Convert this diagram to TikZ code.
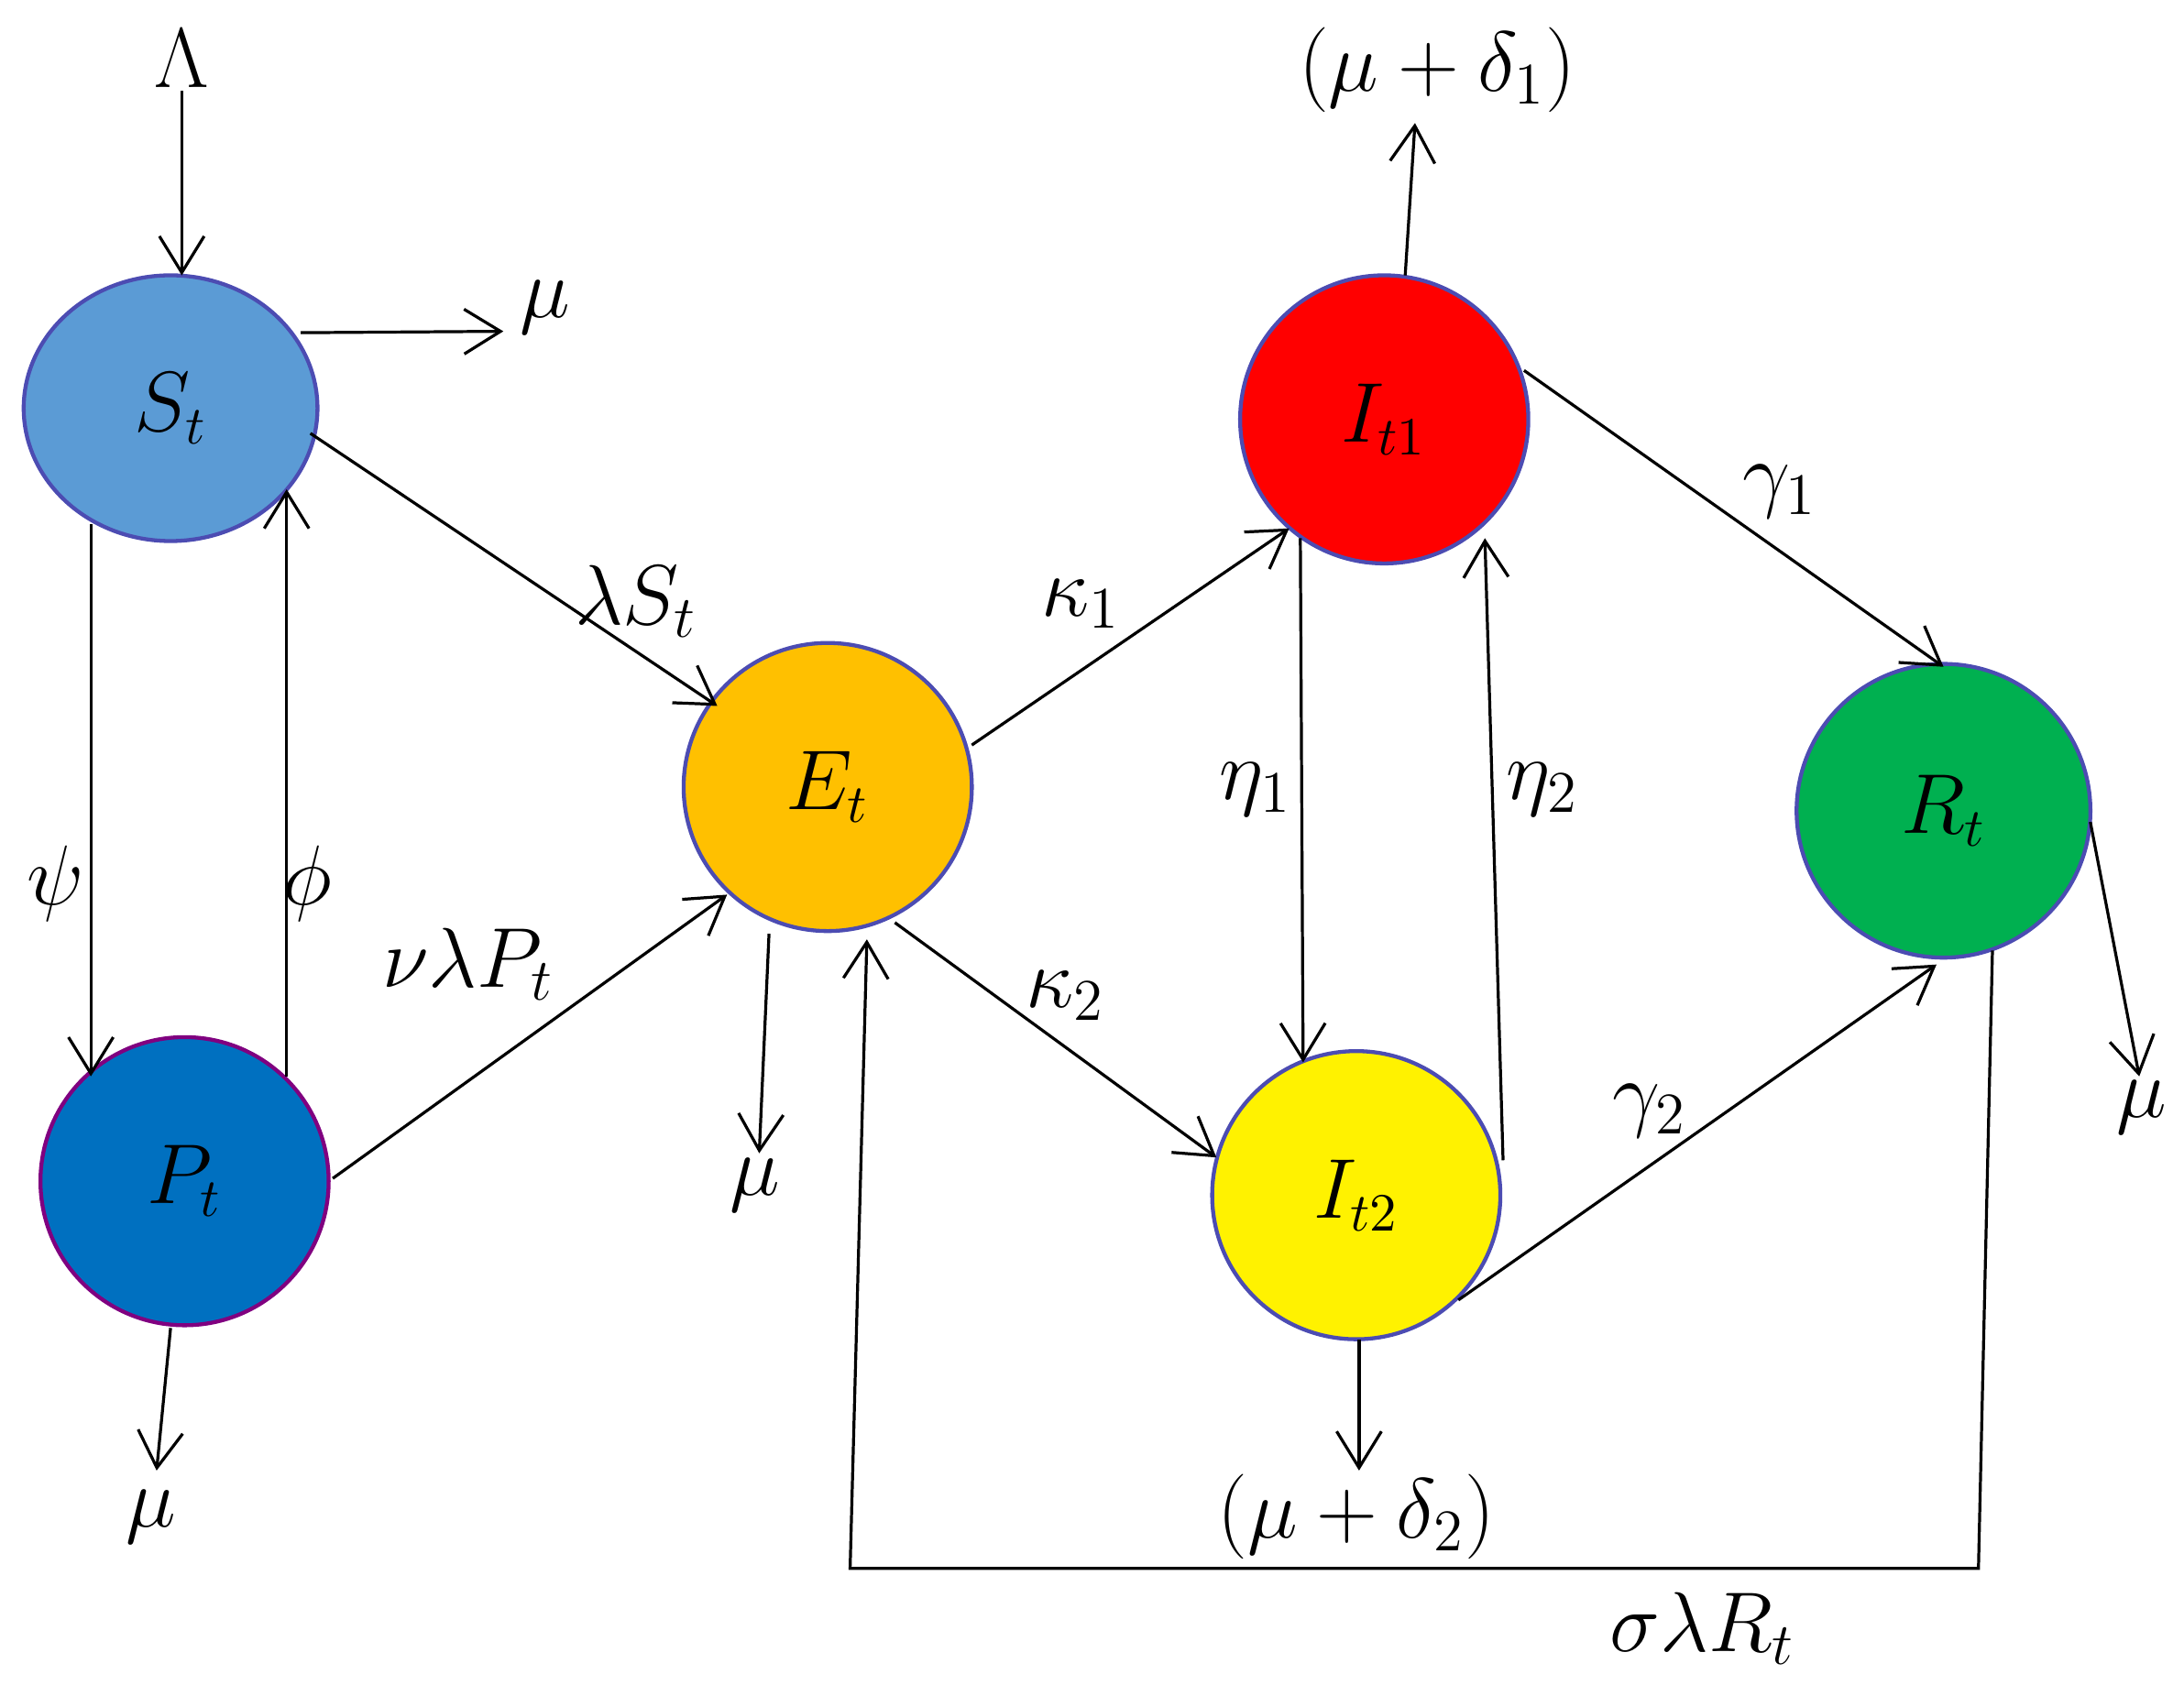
\documentclass[tikz,border=0pt]{standalone}
\usetikzlibrary{arrows.meta,shapes.geometric}
\begin{document}
\begin{tikzpicture}[x=0.01cm,y=-0.01cm,
  comp/.style={circle,draw=blue!40!gray,line width=0.8pt,minimum size=2.06cm,inner sep=0pt,font=\fontsize{16}{18}\selectfont},
  ar/.style={-{Straight Barb[length=2.6mm,width=3.2mm]},line width=0.6pt},
  lb/.style={font=\fontsize{17}{20}\selectfont}]
\useasboundingbox (0,0) rectangle (1562,1205);
\node[comp,ellipse,minimum width=2.1cm,minimum height=1.9cm,fill={rgb,255:red,91;green,155;blue,213}] (S) at (122,292) {$S_t$};
\node[comp,draw=violet,fill={rgb,255:red,0;green,112;blue,192}] (P) at (132,845) {$P_t$};
\node[comp,fill={rgb,255:red,255;green,192;blue,0}] (E) at (592,563) {$E_t$};
\node[comp,fill=red] (I1) at (990,300) {$I_{t1}$};
\node[comp,fill=yellow] (I2) at (970,855) {$I_{t2}$};
\node[comp,minimum size=2.1cm,fill={rgb,255:red,0;green,176;blue,80}] (R) at (1390,580) {$R_t$};
\node[lb] (L) at (130,42) {$\Lambda$};
\node[lb] (m1) at (390,220) {$\mu$};
\node[lb] (m2) at (108,1085) {$\mu$};
\node[lb] (m3) at (540,848) {$\mu$};
\node[lb] (m4) at (1532,792) {$\mu$};
\node[lb] (d1) at (1028,50) {$(\mu+\delta_1)$};
\node[lb] (d2) at (970,1085) {$(\mu+\delta_2)$};
\coordinate (a1) at (130,65); \coordinate (a2) at (130,197);
\draw[ar] (a1) -- (a2);
\coordinate (b1) at (215,238); \coordinate (b2) at (360,237);
\draw[ar] (b1) -- (b2);
\coordinate (c1) at (222,310); \coordinate (c2) at (513,505);
\draw[ar] (c1) -- (c2);
\node[lb] at (455,430) {$\lambda S_t$};
\coordinate (e1) at (65,375); \coordinate (e2) at (65,770);
\draw[ar] (e1) -- (e2);
\node[lb] at (40,632) {$\psi$};
\coordinate (f1) at (205,770); \coordinate (f2) at (205,350);
\draw[ar] (f1) -- (f2);
\node[lb] at (220,632) {$\phi$};
\coordinate (g1) at (238,843); \coordinate (g2) at (520,640);
\draw[ar] (g1) -- (g2);
\node[lb] at (335,690) {$\nu\lambda P_t$};
\coordinate (h1) at (122,950); \coordinate (h2) at (112,1052);
\draw[ar] (h1) -- (h2);
\coordinate (i1) at (550,668); \coordinate (i2) at (543,825);
\draw[ar] (i1) -- (i2);
\coordinate (j1) at (695,533); \coordinate (j2) at (922,378);
\draw[ar] (j1) -- (j2);
\node[lb] at (773,432) {$\kappa_1$};
\coordinate (k1) at (640,660); \coordinate (k2) at (870,828);
\draw[ar] (k1) -- (k2);
\node[lb] at (762,712) {$\kappa_2$};
\coordinate (l1) at (1005,197); \coordinate (l2) at (1012,88);
\draw[ar] (l1) -- (l2);
\coordinate (n1) at (930,385); \coordinate (n2) at (932,760);
\draw[ar] (n1) -- (n2);
\node[lb] at (898,565) {$\eta_1$};
\coordinate (o1) at (1075,830); \coordinate (o2) at (1062,385);
\draw[ar] (o1) -- (o2);
\node[lb] at (1103,565) {$\eta_2$};
\coordinate (q1) at (1090,265); \coordinate (q2) at (1390,477);
\draw[ar] (q1) -- (q2);
\node[lb] at (1273,352) {$\gamma_1$};
\coordinate (r1) at (1043,930); \coordinate (r2) at (1385,690);
\draw[ar] (r1) -- (r2);
\node[lb] at (1180,795) {$\gamma_2$};
\coordinate (s1) at (972,958); \coordinate (s2) at (972,1052);
\draw[ar] (s1) -- (s2);
\coordinate (t1) at (1495,588); \coordinate (t2) at (1530,770);
\draw[ar] (t1) -- (t2);
\coordinate (u1) at (1425,680); \coordinate (u2) at (1415,1122);
\coordinate (u3) at (608,1122); \coordinate (u4) at (620,672);
\draw[ar] (u1) -- (u2) -- (u3) -- (u4);
\node[lb] at (1218,1165) {$\sigma\lambda R_t$};
\end{tikzpicture}
\end{document}
